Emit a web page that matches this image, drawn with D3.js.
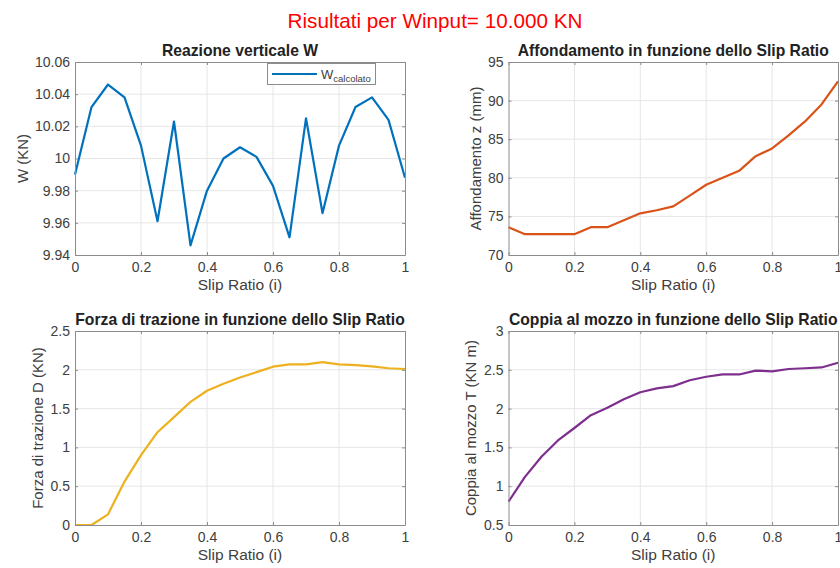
<!DOCTYPE html>
<html>
<head>
<meta charset="utf-8">
<script src="https://cdn.jsdelivr.net/npm/d3@7"></script>
<style>
  html, body { margin: 0; padding: 0; background: #fff; }
  svg { display: block; font-family: "Liberation Sans", Arial, Helvetica, sans-serif; }
</style>
</head>
<body>
<svg id="chart" width="840" height="568"></svg>
<script>
// Slip ratio samples (i = 0 : 0.05 : 1)
const slipRatio = [0, 0.05, 0.1, 0.15, 0.2, 0.25, 0.3, 0.35, 0.4, 0.45, 0.5,
                   0.55, 0.6, 0.65, 0.7, 0.75, 0.8, 0.85, 0.9, 0.95, 1];

// Vertical reaction W (KN)
const wCalcolato = [9.990, 10.032, 10.046, 10.038, 10.008, 9.961, 10.023, 9.946, 9.980, 10.000, 10.007,
                    10.001, 9.983, 9.951, 10.025, 9.966, 10.008, 10.032, 10.038, 10.024, 9.988];

// Sinkage z (mm)
const affondamento = [73.6, 72.7, 72.7, 72.7, 72.7, 73.6, 73.6, 74.5, 75.4, 75.8, 76.3,
                      77.7, 79.1, 80.0, 80.9, 82.8, 83.8, 85.5, 87.3, 89.5, 92.5];

// Drawbar pull D (KN)
const forzaTrazione = [0, 0, 0.137, 0.56, 0.90, 1.196, 1.39, 1.586, 1.73, 1.82, 1.90,
                       1.97, 2.04, 2.07, 2.07, 2.10, 2.07, 2.06, 2.045, 2.02, 2.01];

// Hub torque T (KN m)
const coppiaMozzo = [0.80, 1.12, 1.38, 1.59, 1.75, 1.915, 2.01, 2.12, 2.21, 2.26, 2.29,
                     2.365, 2.41, 2.44, 2.44, 2.49, 2.48, 2.51, 2.52, 2.53, 2.59];

// Tick labels
const xTicks = [0, 0.2, 0.4, 0.6, 0.8, 1];
const xTickLabels = ["0", "0.2", "0.4", "0.6", "0.8", "1"];
const wTicks = [9.94, 9.96, 9.98, 10, 10.02, 10.04, 10.06];
const zTicks = [70, 75, 80, 85, 90, 95];
const dTicks = [0, 0.5, 1, 1.5, 2, 2.5];
const tTicks = [0.5, 1, 1.5, 2, 2.5, 3];

const svg = d3.select("#chart");

// Overall title
svg.append("text")
  .attr("x", 435).attr("y", 28)
  .attr("text-anchor", "middle")
  .attr("fill", "#ff0000")
  .attr("font-size", 20.7)
  .text("Risultati per Winput= 10.000 KN");

const panels = [
  { x0: 75, x1: 405, y0: 62, y1: 255, values: wCalcolato, domain: [9.94, 10.06], ticks: wTicks,
    color: "#0072BD", title: "Reazione verticale W", ylabel: "W (KN)", ylabelX: 22, legend: true },
  { x0: 508.5, x1: 838, y0: 62, y1: 255, values: affondamento, domain: [70, 95], ticks: zTicks,
    color: "#D95319", title: "Affondamento in funzione dello Slip Ratio", ylabel: "Affondamento z (mm)", ylabelX: 475 },
  { x0: 75, x1: 405, y0: 331, y1: 525, values: forzaTrazione, domain: [0, 2.5], ticks: dTicks,
    color: "#EDB120", title: "Forza di trazione in funzione dello Slip Ratio", ylabel: "Forza di trazione D (KN)", ylabelX: 37 },
  { x0: 508.5, x1: 838, y0: 331, y1: 525, values: coppiaMozzo, domain: [0.5, 3], ticks: tTicks,
    color: "#7E2F8E", title: "Coppia al mozzo in funzione dello Slip Ratio", ylabel: "Coppia al mozzo T (KN m)", ylabelX: 470 }
];

const axisColor = "#8c8c8c";
const textColor = "#404040";

panels.forEach(p => {
  const x = d3.scaleLinear().domain([0, 1]).range([p.x0, p.x1]);
  const y = d3.scaleLinear().domain(p.domain).range([p.y1, p.y0]);
  const g = svg.append("g");

  // grid
  g.append("g").selectAll("line").data(xTicks.slice(1, -1)).join("line")
    .attr("x1", d => x(d)).attr("x2", d => x(d))
    .attr("y1", p.y0).attr("y2", p.y1)
    .attr("stroke", "#e6e6e6").attr("stroke-width", 1);
  g.append("g").selectAll("line").data(p.ticks.slice(1, -1)).join("line")
    .attr("y1", d => y(d)).attr("y2", d => y(d))
    .attr("x1", p.x0).attr("x2", p.x1)
    .attr("stroke", "#e6e6e6").attr("stroke-width", 1);

  // data line
  const line = d3.line().x((d, i) => x(slipRatio[i])).y(d => y(d));
  g.append("path").datum(p.values)
    .attr("d", line)
    .attr("fill", "none")
    .attr("stroke", p.color)
    .attr("stroke-width", 2.2)
    .attr("stroke-linejoin", "round");

  // axes (ticks pointing inward, box around)
  const xAxis = g.append("g").attr("transform", `translate(0,${p.y1})`)
    .call(d3.axisBottom(x).tickValues(xTicks).tickFormat((d, i) => xTickLabels[i]).tickSizeInner(-3).tickSizeOuter(0).tickPadding(7));
  const xAxisTop = g.append("g").attr("transform", `translate(0,${p.y0})`)
    .call(d3.axisTop(x).tickValues(xTicks).tickFormat("").tickSizeInner(-3).tickSizeOuter(0));
  const yAxis = g.append("g").attr("transform", `translate(${p.x0},0)`)
    .call(d3.axisLeft(y).tickValues(p.ticks).tickFormat(d3.format("~g")).tickSizeInner(-3).tickSizeOuter(0).tickPadding(5));
  const yAxisRight = g.append("g").attr("transform", `translate(${p.x1},0)`)
    .call(d3.axisRight(y).tickValues(p.ticks).tickFormat("").tickSizeInner(-3).tickSizeOuter(0));

  [xAxis, xAxisTop, yAxis, yAxisRight].forEach(a => {
    a.select(".domain").attr("stroke", axisColor);
    a.selectAll(".tick line").attr("stroke", axisColor);
    a.selectAll("text").attr("fill", textColor).attr("font-size", 14)
      .attr("font-family", "'Liberation Sans', Arial, sans-serif");
  });

  // panel title
  g.append("text")
    .attr("x", (p.x0 + p.x1) / 2).attr("y", p.y0 - 6)
    .attr("text-anchor", "middle")
    .attr("font-weight", "bold")
    .attr("font-size", 15.7)
    .attr("fill", "#222")
    .text(p.title);

  // x label
  g.append("text")
    .attr("x", (p.x0 + p.x1) / 2).attr("y", p.y1 + 35)
    .attr("text-anchor", "middle")
    .attr("font-size", 15.5)
    .attr("fill", textColor)
    .text("Slip Ratio (i)");

  // y label
  g.append("text")
    .attr("transform", `translate(${p.ylabelX},${(p.y0 + p.y1) / 2}) rotate(-90)`)
    .attr("text-anchor", "middle")
    .attr("dominant-baseline", "central")
    .attr("font-size", 15)
    .attr("fill", textColor)
    .text(p.ylabel);

  if (p.legend) {
    const lg = g.append("g");
    lg.append("rect")
      .attr("x", 267.5).attr("y", 63.5).attr("width", 108).attr("height", 21)
      .attr("fill", "#fff").attr("stroke", axisColor);
    lg.append("line")
      .attr("x1", 272).attr("x2", 317).attr("y1", 74).attr("y2", 74)
      .attr("stroke", p.color).attr("stroke-width", 2.2);
    const t = lg.append("text")
      .attr("x", 321).attr("y", 79)
      .attr("font-size", 13).attr("fill", textColor);
    t.append("tspan").text("W");
    t.append("tspan").attr("font-size", 9.5).attr("dy", 3).text("calcolato");
  }
});
</script>
</body>
</html>
